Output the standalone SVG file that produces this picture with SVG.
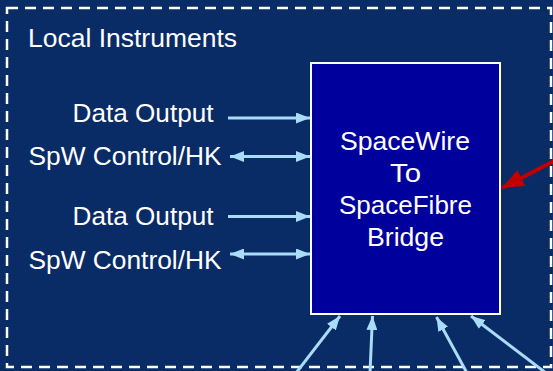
<svg xmlns="http://www.w3.org/2000/svg" width="553" height="371" viewBox="0 0 553 371">
  <defs>
    <style>
      .lbl { font-family: "Liberation Sans", Arial, sans-serif; font-size: 25px; fill: #ffffff; }
      .blue { stroke: #a9dcf7; stroke-width: 3; fill: none; }
      .red { stroke: #c00000; stroke-width: 4; fill: none; }
    </style>
    <marker id="ah" viewBox="0 0 14 11" refX="14" refY="5.5" markerWidth="14" markerHeight="11" markerUnits="userSpaceOnUse" orient="auto-start-reverse">
      <path d="M0,0 L14,5.5 L0,11 Z" fill="#a9dcf7"/>
    </marker>
    <marker id="rh" viewBox="0 0 22 18" refX="22" refY="9" markerWidth="22" markerHeight="18" markerUnits="userSpaceOnUse" orient="auto">
      <path d="M0,0 L22,9 L0,18 Z" fill="#c00000"/>
    </marker>
  </defs>
  <rect x="0" y="0" width="553" height="371" fill="#092b66"/>
  <g id="frame">
    <rect x="7" y="8" width="544" height="359" fill="none" stroke="#ffffff" stroke-width="2.5" stroke-dasharray="11,7"/>
    <text class="lbl" x="28" y="47" textLength="209" lengthAdjust="spacingAndGlyphs">Local Instruments</text>
  </g>
  <g id="bridge">
    <rect x="311" y="63" width="189" height="251" fill="#00009c" stroke="#ffffff" stroke-width="2"/>
    <text class="lbl" x="340" y="150" textLength="130" lengthAdjust="spacingAndGlyphs">SpaceWire</text>
    <text class="lbl" x="390" y="182" textLength="31" lengthAdjust="spacingAndGlyphs">To</text>
    <text class="lbl" x="339" y="214" textLength="133" lengthAdjust="spacingAndGlyphs">SpaceFibre</text>
    <text class="lbl" x="367" y="246" textLength="77" lengthAdjust="spacingAndGlyphs">Bridge</text>
  </g>
  <g id="label-data1"><text class="lbl" x="72.5" y="122" textLength="141" lengthAdjust="spacingAndGlyphs">Data Output</text></g>
  <g id="label-spw1"><text class="lbl" x="28.5" y="165" textLength="193" lengthAdjust="spacingAndGlyphs">SpW Control/HK</text></g>
  <g id="label-data2"><text class="lbl" x="72.5" y="225" textLength="141" lengthAdjust="spacingAndGlyphs">Data Output</text></g>
  <g id="label-spw2"><text class="lbl" x="28.5" y="269" textLength="193" lengthAdjust="spacingAndGlyphs">SpW Control/HK</text></g>
  <g id="connectors">
    <line class="blue" x1="228" y1="118" x2="310" y2="118" marker-end="url(#ah)"/>
    <line class="blue" x1="230" y1="156.5" x2="310" y2="156.5" marker-start="url(#ah)" marker-end="url(#ah)"/>
    <line class="blue" x1="228" y1="216.5" x2="310" y2="216.5" marker-end="url(#ah)"/>
    <line class="blue" x1="230" y1="254" x2="310" y2="254" marker-start="url(#ah)" marker-end="url(#ah)"/>
    <line class="blue" x1="296" y1="373" x2="340" y2="316" marker-end="url(#ah)"/>
    <line class="blue" x1="370" y1="373" x2="372.5" y2="316" marker-end="url(#ah)"/>
    <line class="blue" x1="467" y1="373" x2="436.5" y2="317" marker-end="url(#ah)"/>
    <line class="blue" x1="546" y1="373" x2="471" y2="316" marker-end="url(#ah)"/>
    <line class="red" x1="556" y1="160" x2="502" y2="188" marker-end="url(#rh)"/>
  </g>
</svg>
